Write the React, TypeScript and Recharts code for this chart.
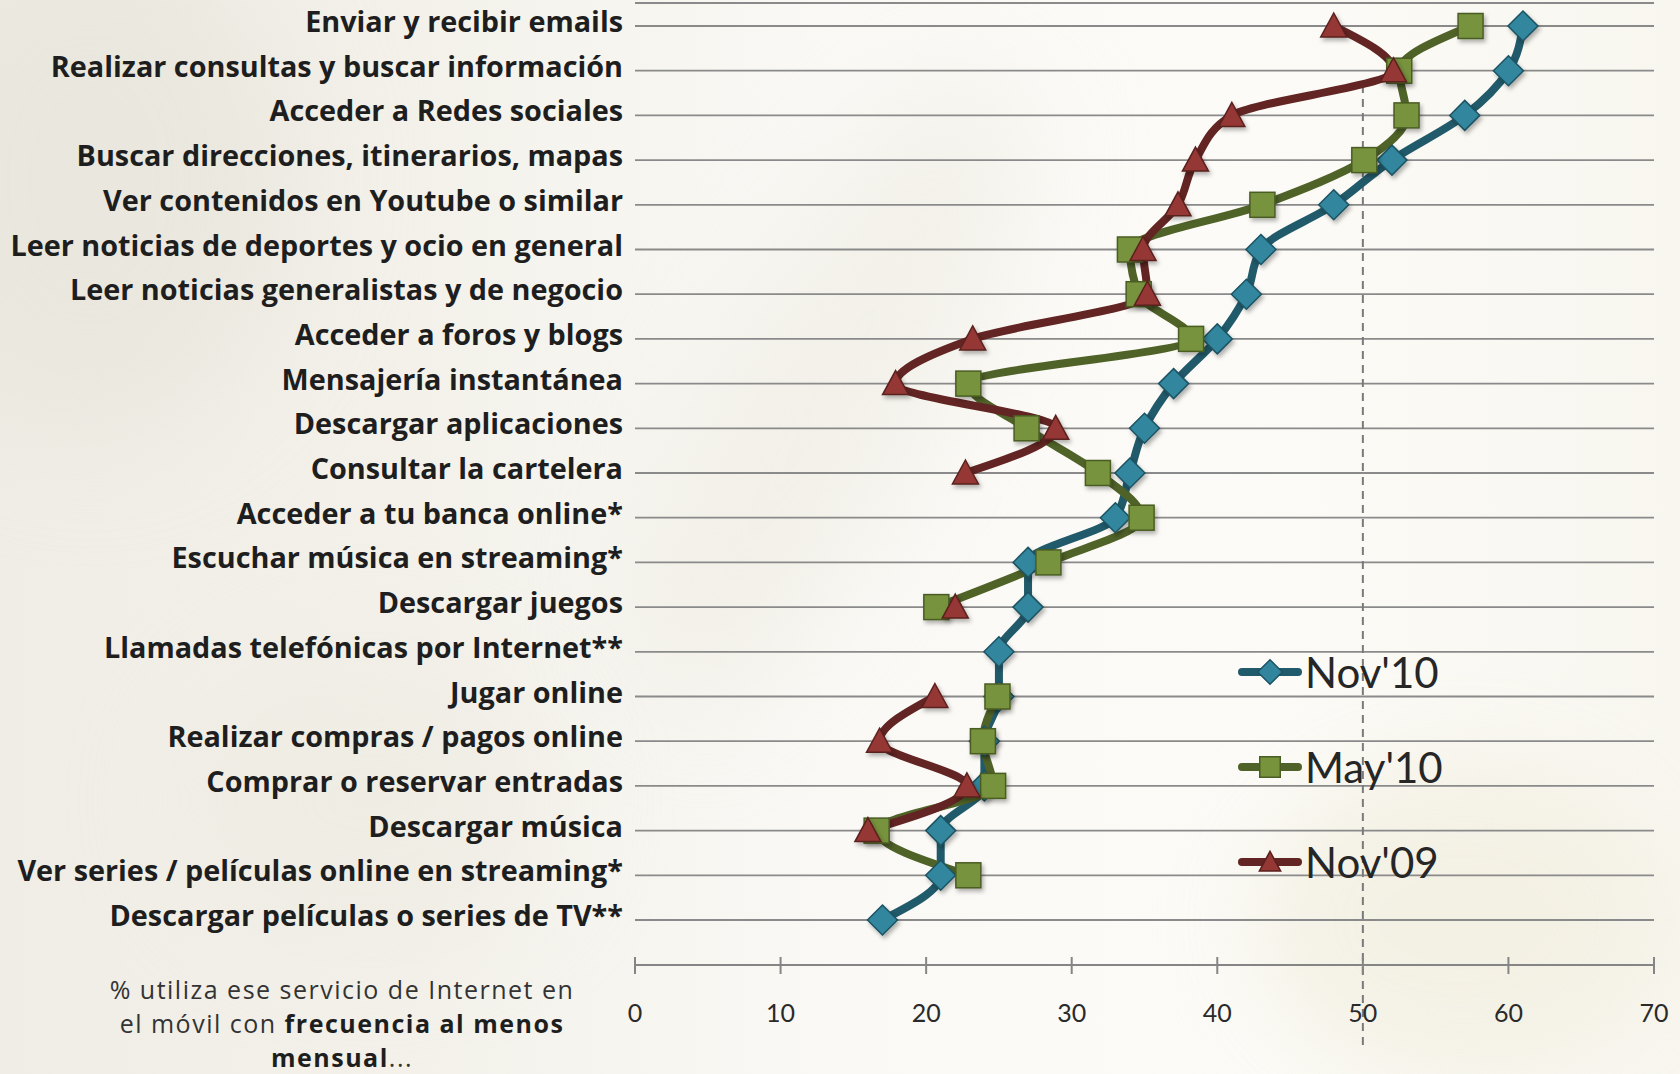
import React from 'react';
import { LineChart, Line, XAxis, YAxis, CartesianGrid, ReferenceLine, Legend } from 'recharts';

const categories = [
  'Enviar y recibir emails',
  'Realizar consultas y buscar información',
  'Acceder a Redes sociales',
  'Buscar direcciones, itinerarios, mapas',
  'Ver contenidos en Youtube o similar',
  'Leer noticias de deportes y ocio en general',
  'Leer noticias generalistas y de negocio',
  'Acceder a foros y blogs',
  'Mensajería instantánea',
  'Descargar aplicaciones',
  'Consultar la cartelera',
  'Acceder a tu banca online*',
  'Escuchar música en streaming*',
  'Descargar juegos',
  'Llamadas telefónicas por Internet**',
  'Jugar online',
  'Realizar compras / pagos online',
  'Comprar o reservar entradas',
  'Descargar música',
  'Ver series / películas online en streaming*',
  'Descargar películas o series de TV**',
];

const nov10: (number | null)[] = [61, 60, 57, 52, 48, 43, 42, 40, 37, 35, 34, 33, 27, 27, 25, 25, 24, 24, 21, 21, 17];
const may10: (number | null)[] = [57.4, 52.5, 53, 50.1, 43.1, 34, 34.6, 38.2, 22.9, 26.9, 31.8, 34.8, 28.4, 20.7, null, 24.9, 23.9, 24.6, 16.6, 22.9, null];
const nov09: (number | null)[] = [48, 52.1, 41, 38.5, 37.3, 34.9, 35.2, 23.2, 17.9, 28.9, 22.7, null, null, 22, null, 20.6, 16.8, 22.8, 16, null, null];

const xTicks = [0, 10, 20, 30, 40, 50, 60, 70];
const seriesNames = ["Nov'10", "May'10", "Nov'09"];
const captionLines = ['% utiliza ese servicio de Internet en', 'el móvil con ', 'frecuencia al menos', 'mensual', '...'];

type Kind = 'diamond' | 'square' | 'triangle';
type Col = { line: string; fill: string; edge: string };

const C: Record<string, Col> = {
  nov10: { line: '#215a6a', fill: '#31869d', edge: '#1c5363' },
  may10: { line: '#4f6228', fill: '#77933c', edge: '#4a5d23' },
  nov09: { line: '#632523', fill: '#953735', edge: '#5a201e' },
};

// split a series into contiguous runs so that gaps stay open
const splitRuns = (vals: (number | null)[]) => {
  const runs: (number | null)[][] = [];
  let cur: (number | null)[] | null = null;
  vals.forEach((v, i) => {
    if (v == null) {
      cur = null;
      return;
    }
    if (!cur) {
      cur = vals.map(() => null);
      runs.push(cur);
    }
    cur[i] = v;
  });
  return runs;
};

const seriesDefs: { key: string; vals: (number | null)[]; kind: Kind; name: string }[] = [
  { key: 'nov10', vals: nov10, kind: 'diamond', name: seriesNames[0] },
  { key: 'may10', vals: may10, kind: 'square', name: seriesNames[1] },
  { key: 'nov09', vals: nov09, kind: 'triangle', name: seriesNames[2] },
];

const segments = seriesDefs.flatMap((s) =>
  splitRuns(s.vals).map((run, r) => ({ dataKey: `${s.key}_${r}`, run, series: s }))
);

const data = categories.map((name, i) => {
  const row: Record<string, any> = { name };
  segments.forEach((seg) => {
    row[seg.dataKey] = seg.run[i];
  });
  return row;
});

const FONT = "Lato, 'Open Sans', 'DejaVu Sans', sans-serif";
const LABEL_FONT = "'Open Sans', 'Noto Sans', sans-serif";

const markerShape = (kind: Kind, cx: number, cy: number, c: Col, s = 1, filter?: string) => {
  if (kind === 'diamond') {
    const r = 15 * s;
    return <polygon points={`${cx},${cy - r} ${cx + r},${cy} ${cx},${cy + r} ${cx - r},${cy}`} fill={c.fill} stroke={c.edge} strokeWidth={1.5} filter={filter} />;
  }
  if (kind === 'square') {
    const h = 12.5 * s;
    return <rect x={cx - h} y={cy - h} width={2 * h} height={2 * h} fill={c.fill} stroke={c.edge} strokeWidth={1.5} filter={filter} />;
  }
  const a = 13 * s;
  return <polygon points={`${cx},${cy - a} ${cx + a},${cy + 11 * s} ${cx - a},${cy + 11 * s}`} fill={c.fill} stroke={c.edge} strokeWidth={1.5} filter={filter} />;
};

const makeDot = (kind: Kind, c: Col, tag: string) => (props: any) => {
  const { cx, cy, value, index } = props;
  if (cx == null || cy == null || value == null || Number.isNaN(cx)) return <g key={`e-${tag}-${index}`} />;
  return <g key={`d-${tag}-${index}`}>{markerShape(kind, cx, cy, c, 1, 'url(#mshadow)')}</g>;
};

const YTick = (props: any) => {
  const { x, y, payload } = props;
  return (
    <text x={x} y={y + 6} textAnchor="end" fontFamily={LABEL_FONT} fontWeight={700} fontSize={28.8} fill="#1e1e1e">
      {payload.value}
    </text>
  );
};

const XTick = (props: any) => {
  const { x, y, payload } = props;
  return (
    <g>
      <line x1={x} x2={x} y1={y - 8} y2={y + 9} stroke="#858585" strokeWidth={2} />
      <text x={x} y={y + 57} textAnchor="middle" fontFamily={FONT} fontSize={25} fill="#2a2a2a">
        {payload.value}
      </text>
    </g>
  );
};

const renderLegend = () => (
  <div style={{ display: 'flex', flexDirection: 'column' }}>
    {seriesDefs.map((s) => (
      <div key={s.key} style={{ height: 95, display: 'flex', alignItems: 'center' }}>
        <svg width={64} height={40} style={{ display: 'block' }}>
          <line x1={4} x2={60} y1={20} y2={20} stroke={C[s.key].line} strokeWidth={8} strokeLinecap="round" />
          {markerShape(s.kind, 32, 20, C[s.key], 0.82)}
        </svg>
        <span style={{ fontFamily: FONT, fontSize: 42, color: '#262626', marginLeft: 3, lineHeight: 1 }}>{s.name}</span>
      </div>
    ))}
  </div>
);

const RefShape = (p: any) => {
  const top = Math.min(p.y1, p.y2);
  const bot = Math.max(p.y1, p.y2);
  return <line x1={p.x1} x2={p.x2} y1={top + 82} y2={bot + 82} stroke="#7a7a7a" strokeWidth={2} strokeDasharray="8 6" />;
};

export default function App() {
  return (
    <div
      style={{
        position: 'absolute',
        left: 0,
        top: 0,
        width: 1680,
        height: 1074,
        overflow: 'hidden',
        background: 'linear-gradient(90deg, #efede5 0%, #f3f1ea 25%, #faf9f5 50%, #fcfbf7 75%, #f8f6ef 100%)',
      }}
    >
      <div style={{ position: 'absolute', left: -120, top: -80, width: 420, height: 520, borderRadius: '50%', background: '#e6e3d9', filter: 'blur(60px)', opacity: 0.6 }} />
      <div style={{ position: 'absolute', left: 720, top: 40, width: 220, height: 700, borderRadius: '45%', background: '#eeebe2', filter: 'blur(55px)', opacity: 0.6, transform: 'rotate(28deg)' }} />
      <div style={{ position: 'absolute', left: 1250, top: 760, width: 420, height: 320, borderRadius: '50%', background: '#f2efe1', filter: 'blur(50px)', opacity: 0.8 }} />
      <div style={{ position: 'absolute', left: 180, top: 650, width: 380, height: 300, borderRadius: '50%', background: '#ece9df', filter: 'blur(55px)', opacity: 0.5 }} />
      <div style={{ position: 'absolute', left: 0, top: 0 }}>
        <LineChart
          width={1680}
          height={1074}
          data={data}
          layout="vertical"
          margin={{ top: 3, right: 26, bottom: 49, left: 0 }}
        >
          <defs>
            <filter id="mshadow" x="-50%" y="-50%" width="200%" height="200%">
              <feDropShadow dx="2" dy="3" stdDeviation="2" floodColor="#000" floodOpacity="0.3" />
            </filter>
          </defs>
          <CartesianGrid vertical={false} horizontal={true} stroke="#8a8a8a" strokeWidth={1.8} />
          <XAxis
            type="number"
            domain={[0, 70]}
            ticks={xTicks}
            interval={0}
            height={60}
            axisLine={{ stroke: '#858585', strokeWidth: 2 }}
            tickLine={false}
            tickSize={0}
            tickMargin={0}
            tick={<XTick />}
          />
          <YAxis
            type="category"
            dataKey="name"
            scale="point"
            width={635}
            padding={{ top: 23, bottom: 45 }}
            axisLine={false}
            tickLine={false}
            tickSize={0}
            tickMargin={12}
            interval={0}
            tick={<YTick />}
          />
          <ReferenceLine x={50} stroke="#7a7a7a" shape={RefShape} />
          <Legend layout="horizontal" verticalAlign="middle" align="center" content={renderLegend} wrapperStyle={{ position: 'absolute', left: 1238, top: 624, width: 320, height: 290 }} />
          {segments.map((seg) => (
            <Line
              key={seg.dataKey}
              dataKey={seg.dataKey}
              name={seg.series.name}
              type="monotone"
              stroke={C[seg.series.key].line}
              strokeWidth={8}
              dot={makeDot(seg.series.kind, C[seg.series.key], seg.dataKey)}
              activeDot={false}
              connectNulls={false}
              legendType="none"
              isAnimationActive={false}
            />
          ))}
        </LineChart>
      </div>
      <div
        style={{
          position: 'absolute',
          left: 82,
          top: 972,
          width: 520,
          textAlign: 'center',
          fontFamily: LABEL_FONT,
          fontSize: 25,
          letterSpacing: 1.5,
          lineHeight: '34px',
          color: '#333',
        }}
      >
        <div>{captionLines[0]}</div>
        <div>
          {captionLines[1]}
          <b style={{ color: '#1e1e1e' }}>{captionLines[2]}</b>
        </div>
        <div>
          <b style={{ color: '#1e1e1e' }}>{captionLines[3]}</b>
          {captionLines[4]}
        </div>
      </div>
    </div>
  );
}
